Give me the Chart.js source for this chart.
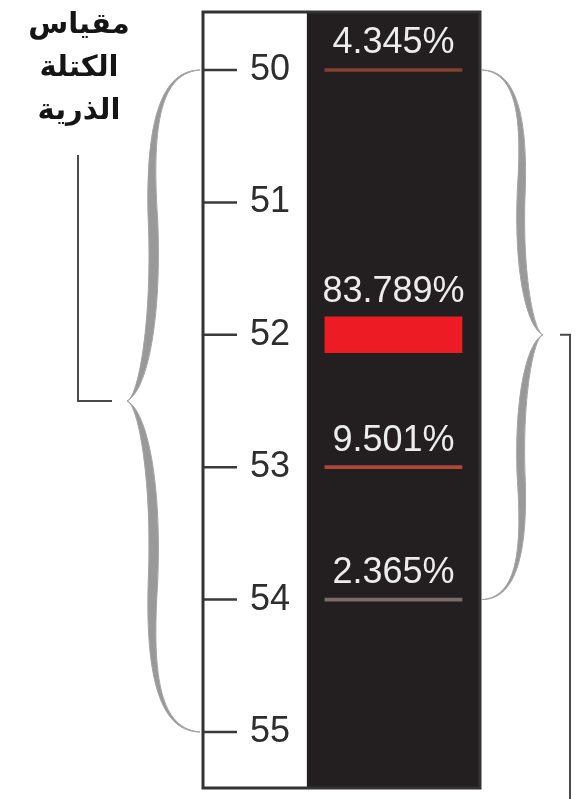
<!DOCTYPE html>
<html>
<head>
<meta charset="utf-8">
<script src="https://cdn.jsdelivr.net/npm/chart.js@4.4.0/dist/chart.umd.min.js"></script>
<style>
  body { margin: 0; background: #fff; }
  #wrap { position: relative; width: 580px; height: 799px; }
  #title {
    position: absolute; left: 14px; top: 2px; width: 130px;
    text-align: center; direction: rtl;
    font: bold 29px "DejaVu Sans"; line-height: 43px; color: #151515;
  }
</style>
</head>
<body>
<div id="wrap">
  <canvas id="chart" width="580" height="799"></canvas>
  <div id="title"></div>
</div>
<script>
// isotopes of chromium: mass number -> natural abundance
const massNumbers = [50, 52, 53, 54];
const abundance = [4.345, 83.789, 9.501, 2.365];
const abundanceLabels = ['4.345%', '83.789%', '9.501%', '2.365%'];
const scaleTicks = [50, 51, 52, 53, 54, 55];
const titleLines = ['مقياس', 'الكتلة', 'الذرية'];
const barColors = ['#86402f', '#ed1c24', '#b0463a', '#7b6b6b'];

document.getElementById('title').innerHTML = titleLines.join('<br>');

const barSpan = [44, 93.5]; // where the marks sit inside the dark column
const darkFrom = 37.5;

const points = massNumbers.map((m, i) => ({ x: barSpan, y: m, i: i }));
const major = points.filter(p => abundance[p.i] > 50);
const minor = points.filter(p => abundance[p.i] <= 50);

// curly brace between yA and yB, pointing to xTip
function brace(ctx, xEnd, yA, yB, xTip) {
  const d = xEnd - xTip;
  const yMid = (yA + yB) / 2;
  const X = u => xTip + u * d;
  [yA, yB].forEach(yFrom => {
    const Y = v => yFrom + v * (yMid - yFrom);
    ctx.beginPath();
    ctx.moveTo(X(1), Y(0));
    ctx.bezierCurveTo(X(0.48), Y(0), X(0.25), Y(0.15), X(0.29), Y(0.45));
    ctx.bezierCurveTo(X(0.35), Y(0.75), X(0.16), Y(0.99), X(0), Y(1));
    ctx.bezierCurveTo(X(0.28), Y(0.97), X(0.48), Y(0.75), X(0.42), Y(0.45));
    ctx.bezierCurveTo(X(0.33), Y(0.15), X(0.48), Y(0.01), X(1), Y(0));
    ctx.closePath();
    ctx.fill();
    ctx.stroke();
  });
}

const frame = {
  id: 'frame',
  beforeDraw(chart) {
    const { ctx, chartArea: a, scales: { x } } = chart;
    const split = x.getPixelForValue(darkFrom);
    ctx.save();
    ctx.fillStyle = '#ffffff';
    ctx.fillRect(a.left, a.top, split - a.left, a.bottom - a.top);
    ctx.fillStyle = '#231f20';
    ctx.fillRect(split, a.top, a.right - split, a.bottom - a.top);
    ctx.restore();
  },
  afterDatasetsDraw(chart) {
    const ctx = chart.ctx;
    ctx.save();
    ctx.fillStyle = '#ececec';
    ctx.font = '36px "Liberation Sans"';
    ctx.textAlign = 'center';
    ctx.textBaseline = 'alphabetic';
    chart.data.datasets.forEach((ds, d) => {
      chart.getDatasetMeta(d).data.forEach((bar, j) => {
        const p = bar.getProps(['x', 'base', 'y', 'height'], true);
        const top = p.y - p.height / 2;
        ctx.fillText(abundanceLabels[ds.data[j].i], (p.x + p.base) / 2, top - 15);
      });
    });
    ctx.restore();
  },
  afterDraw(chart) {
    const { ctx, chartArea: a, scales: { y } } = chart;
    ctx.save();
    // tick marks from the left edge of the scale
    ctx.strokeStyle = '#3a3a3a';
    ctx.lineWidth = 2.5;
    scaleTicks.forEach(v => {
      const py = y.getPixelForValue(v);
      ctx.beginPath();
      ctx.moveTo(a.left, py);
      ctx.lineTo(a.left + 34, py);
      ctx.stroke();
    });
    ctx.lineWidth = 3;
    ctx.strokeStyle = '#333';
    ctx.strokeRect(a.left, a.top, a.right - a.left, a.bottom - a.top);

    // braces
    ctx.fillStyle = '#999999';
    ctx.strokeStyle = '#a4a4a4';
    ctx.lineWidth = 1;
    const y50 = y.getPixelForValue(50), y54 = y.getPixelForValue(54), y55 = y.getPixelForValue(55);
    brace(ctx, a.left - 3, y50, y55, 127);
    brace(ctx, a.right + 2, y50, y54, 543);

    // connector brackets
    ctx.strokeStyle = '#4a4a4a';
    ctx.lineWidth = 2;
    const lMid = (y50 + y55) / 2, rMid = (y50 + y54) / 2;
    ctx.beginPath();
    ctx.moveTo(78, 155);
    ctx.lineTo(78, lMid);
    ctx.lineTo(112, lMid);
    ctx.stroke();
    ctx.beginPath();
    ctx.moveTo(560, rMid);
    ctx.lineTo(570, rMid);
    ctx.lineTo(570, chart.height);
    ctx.stroke();
    ctx.restore();
  }
};

new Chart(document.getElementById('chart'), {
  type: 'bar',
  data: {
    datasets: [
      {
        data: major,
        backgroundColor: major.map(p => barColors[p.i]),
        barThickness: 36
      },
      {
        data: minor,
        backgroundColor: minor.map(p => barColors[p.i]),
        barThickness: 3
      }
    ]
  },
  options: {
    indexAxis: 'y',
    responsive: false,
    animation: false,
    grouped: false,
    layout: { padding: { left: 203, right: 100, top: 12, bottom: 11 } },
    plugins: { legend: { display: false }, tooltip: { enabled: false } },
    scales: {
      x: { type: 'linear', min: 0, max: 100, display: false },
      y: {
        type: 'linear',
        reverse: true,
        offset: false,
        min: 49.562,
        max: 55.423,
        afterBuildTicks: s => { s.ticks = scaleTicks.map(v => ({ value: v })); },
        afterFit: s => { s.width = 0; s.paddingTop = 0; s.paddingBottom = 0; },
        grid: { display: false },
        border: { display: false },
        ticks: {
          mirror: true,
          padding: 47,
          color: '#2e2e2e',
          font: { family: 'Liberation Sans', size: 36 }
        }
      }
    }
  },
  plugins: [frame]
});
</script>
</body>
</html>
